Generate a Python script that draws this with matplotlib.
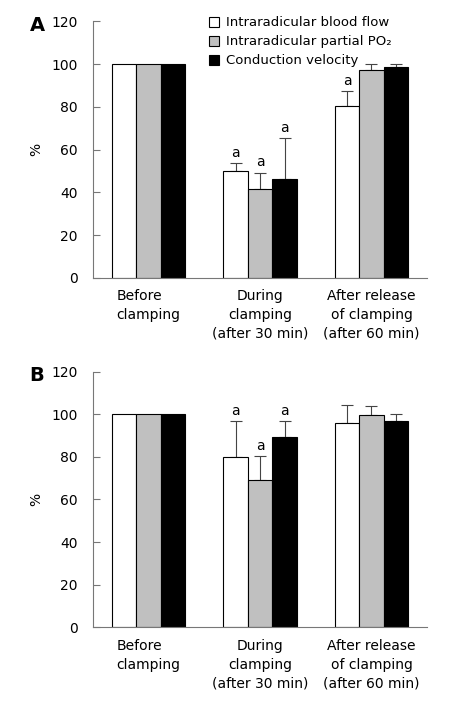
import matplotlib
matplotlib.use("Agg")
import matplotlib.pyplot as plt
import numpy as np

categories = ["Before\nclamping", "During\nclamping\n(after 30 min)", "After release\nof clamping\n(after 60 min)"]
series = ["Intraradicular blood flow", "Intraradicular partial PO₂", "Conduction velocity"]
colors = ["white", "#c0c0c0", "black"]

a_vals = [[100, 50, 80.3], [100, 41.4, 97], [100, 46.1, 98.4]]
a_err = [[0, 3.6, 7], [0, 7.8, 2.8], [0, 19.1, 1.4]]
a_sig = [[False, True, True], [False, True, False], [False, True, False]]

b_vals = [[100, 79.7, 95.9], [100, 69.2, 99.7], [100, 89.4, 97]]
b_err = [[0, 16.9, 8.5], [0, 11.1, 4], [0, 7.2, 3.3]]
b_sig = [[False, True, False], [False, True, False], [False, True, False]]

yticks = [0, 20, 40, 60, 80, 100, 120]

fig = plt.figure(figsize=(4.72, 7.09), dpi=100)
axA = fig.add_axes([0.197, 0.608, 0.708, 0.362])
axB = fig.add_axes([0.197, 0.115, 0.708, 0.361])

width = 0.22
x = np.arange(len(categories))

def draw(ax, vals, errs, sigs, letter, legend):
    for i in range(3):
        pos = x + (i - 1) * width
        ax.bar(pos, vals[i], width=width, color=colors[i], edgecolor="black", linewidth=0.8,
               label=series[i], zorder=2)
        for j in range(3):
            if errs[i][j] > 0:
                top = vals[i][j] + errs[i][j]
                ax.errorbar(pos[j], vals[i][j], yerr=[[0], [errs[i][j]]], fmt="none",
                            ecolor="#444444", elinewidth=0.8, capsize=4, capthick=0.8, zorder=1)
            else:
                top = vals[i][j]
            if sigs[i][j]:
                ax.text(pos[j], top + 1.5, "a", ha="center", va="bottom", fontsize=10)
    ax.set_xlim(-0.5, 2.5)
    ax.set_ylim(0, 120)
    ax.set_yticks(yticks)
    ax.tick_params(axis="y", direction="in", length=5, width=0.8, color="#777777", labelsize=10, pad=11)
    ax.tick_params(axis="x", length=0, labelsize=10, pad=8)
    ax.set_xticks(x)
    ax.set_xticklabels(categories, linespacing=1.45)
    labs = ax.get_xticklabels()
    labs[0].set_multialignment("left")
    ax.spines["top"].set_visible(False)
    ax.spines["right"].set_visible(False)
    ax.spines["left"].set_color("#777777")
    ax.spines["bottom"].set_color("#777777")
    ax.spines["left"].set_linewidth(0.8)
    ax.spines["bottom"].set_linewidth(0.8)
    ax.set_ylabel("%", fontsize=10, labelpad=6)
    ax.text(-0.19, 0.985, letter, transform=ax.transAxes, fontsize=14, fontweight="bold",
            ha="left", va="center")
    if legend:
        ax.legend(loc="upper left", bbox_to_anchor=(0.33, 1.04), frameon=False, fontsize=9.5,
                  handlelength=0.8, handleheight=0.8, handletextpad=0.5, labelspacing=0.45,
                  borderaxespad=0)

draw(axA, a_vals, a_err, a_sig, "A", True)
draw(axB, b_vals, b_err, b_sig, "B", False)

fig.savefig("out.png", dpi=100)
